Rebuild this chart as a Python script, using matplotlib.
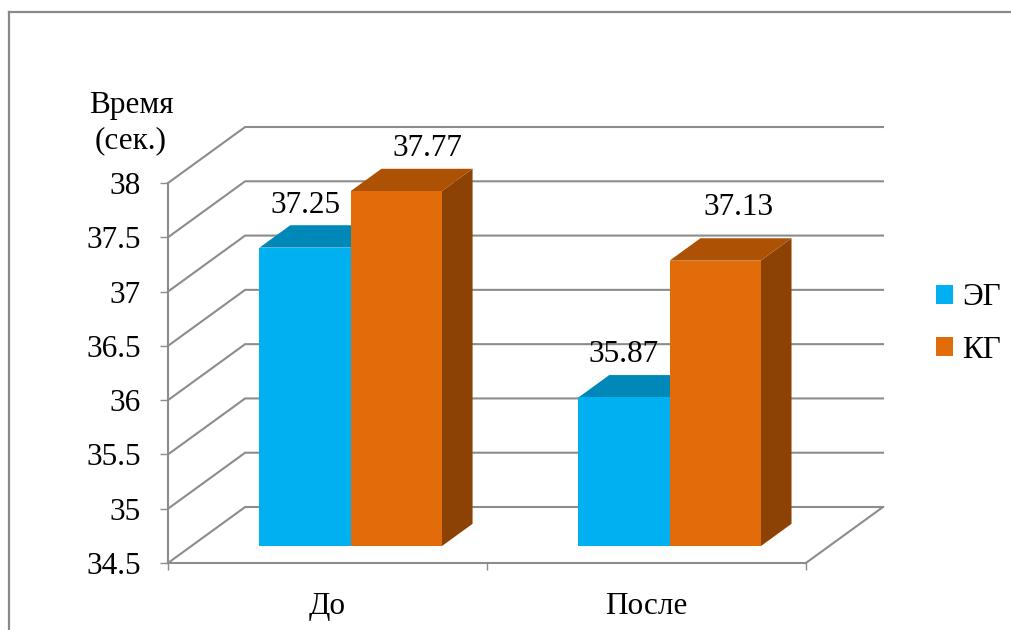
import matplotlib
matplotlib.use("Agg")
import matplotlib.pyplot as plt
from matplotlib.patches import Polygon, Rectangle
from matplotlib.lines import Line2D

# --- data ---
categories = ["До", "После"]
series_names = ["ЭГ", "КГ"]
eg_values = [37.25, 35.87]
kg_values = [37.77, 37.13]
y_ticks = [34.5, 35, 35.5, 36, 36.5, 37, 37.5, 38]
y_tick_labels = ["34.5", "35", "35.5", "36", "36.5", "37", "37.5", "38"]
axis_title = "Время\n(сек.)"

# --- style ---
FONT = "Liberation Serif"
FS = 22.5
GRID = "#8c8c8c"
front_colors = ["#00b0f0", "#e36c0a"]
top_colors = ["#0088b8", "#ad5105"]
side_colors = ["#006a8e", "#8d4205"]
# value-label nudges in points, per series then per category
label_nudge = [[(0, 14.5), (0, 14.5)],
               [(0, 14.5), (-5.5, 22.5)]]

plt.rcParams["font.family"] = FONT

YMIN, YMAX = 34.5, 38.0
# oblique depth offset in data units (x: category units, y: value units)
DX, DY = 0.2418, 0.5157
BAR_W = 1 / 3.5          # gap width 150 %
F0, F1 = 0.30, 0.70      # bar depth span inside the floor

W_PX, H_PX = 1012, 630
fig = plt.figure(figsize=(W_PX / 100, H_PX / 100), dpi=100)
fig.patch.set_facecolor("white")

left, right, bottom, top = 168, 883, 563, 127
ax = fig.add_axes([left / W_PX, 1 - bottom / H_PX,
                   (right - left) / W_PX, (bottom - top) / H_PX])
ax.set_xlim(0, len(categories) + DX)
ax.set_ylim(YMIN, YMAX + DY)
ax.set_facecolor("none")
for s in ax.spines.values():
    s.set_visible(False)


def proj(x, v, f):
    return (x + f * DX, v + f * DY)


# walls: diagonal + back gridline for each tick value
n = len(categories)
for v in y_ticks:
    ax.plot([0, DX, n + DX], [v, v + DY, v + DY], color=GRID, lw=1.5,
            solid_joinstyle="miter", clip_on=False, zorder=1)
# floor right edge, front edge, left axis line
ax.plot([n, n + DX], [YMIN, YMIN + DY], color=GRID, lw=1.5, clip_on=False, zorder=1)
ax.plot([0, n], [YMIN, YMIN], color=GRID, lw=1.5, clip_on=False, zorder=1)
ax.plot([0, 0], [YMIN, YMAX], color=GRID, lw=1.5, clip_on=False, zorder=1)

# bars
all_values = [eg_values, kg_values]
for i in range(n):
    c = i + 0.5
    for j, vals in enumerate(all_values):
        val = vals[i]
        x0 = c - BAR_W + j * BAR_W
        x1 = x0 + BAR_W
        front = Polygon([proj(x0, YMIN, F0), proj(x1, YMIN, F0),
                         proj(x1, val, F0), proj(x0, val, F0)],
                        closed=True, fc=front_colors[j], ec="none", zorder=3 + j)
        topf = Polygon([proj(x0, val, F0), proj(x1, val, F0),
                        proj(x1, val, F1), proj(x0, val, F1)],
                       closed=True, fc=top_colors[j], ec="none", zorder=3 + j)
        side = Polygon([proj(x1, YMIN, F0), proj(x1, val, F0),
                        proj(x1, val, F1), proj(x1, YMIN, F1)],
                       closed=True, fc=side_colors[j], ec="none", zorder=3 + j)
        for p in (side, topf, front):
            p.set_clip_on(False)
            ax.add_patch(p)
        # value label above the bar
        lx = (x0 + x1) / 2 + (F0 * DX if j == 0 else F1 * DX)
        ax.annotate(f"{val:.2f}", xy=(lx, val + F1 * DY), xytext=label_nudge[j][i],
                    textcoords="offset points", ha="center", va="center",
                    fontsize=FS, family=FONT, color="black", zorder=10,
                    annotation_clip=False)

# value axis ticks and labels
ax.set_yticks(y_ticks)
ax.set_yticklabels(y_tick_labels, family=FONT, fontsize=FS)
ax.tick_params(axis="y", direction="out", length=5.5, width=1.0, color=GRID,
               pad=14)

# category axis: major ticks at boundaries, labels at centres
ax.set_xticks(list(range(n + 1)))
ax.set_xticklabels([""] * (n + 1))
ax.tick_params(axis="x", which="major", direction="out", length=5, width=1.0,
               color=GRID)
ax.set_xticks([i + 0.5 for i in range(n)], minor=True)
ax.set_xticklabels(categories, minor=True, family=FONT, fontsize=FS)
ax.tick_params(axis="x", which="minor", length=0, pad=21)

# axis title
fig.text(131 / W_PX, 1 - 123 / H_PX, axis_title, ha="center", va="center",
         fontsize=FS, family=FONT, linespacing=1.3)

# legend
handles = [Rectangle((0, 0), 1, 1, fc=front_colors[k], ec="none")
           for k in range(len(series_names))]
leg = fig.legend(handles, series_names, loc="center left",
                 bbox_to_anchor=(936 / W_PX, 1 - 324 / H_PX),
                 frameon=False, prop={"family": FONT, "size": FS},
                 handlelength=0.55, handleheight=0.55, handletextpad=0.3,
                 labelspacing=0.75, borderpad=0, borderaxespad=0)

# outer chart border (top and left edges)
fig.add_artist(Line2D([9 / W_PX, 9 / W_PX], [0, 1 - 12 / H_PX],
                      transform=fig.transFigure, color="#898989", lw=1.6))
fig.add_artist(Line2D([9 / W_PX, 1], [1 - 12 / H_PX, 1 - 12 / H_PX],
                      transform=fig.transFigure, color="#898989", lw=1.6))

fig.savefig("out.png", dpi=100, facecolor="white")
